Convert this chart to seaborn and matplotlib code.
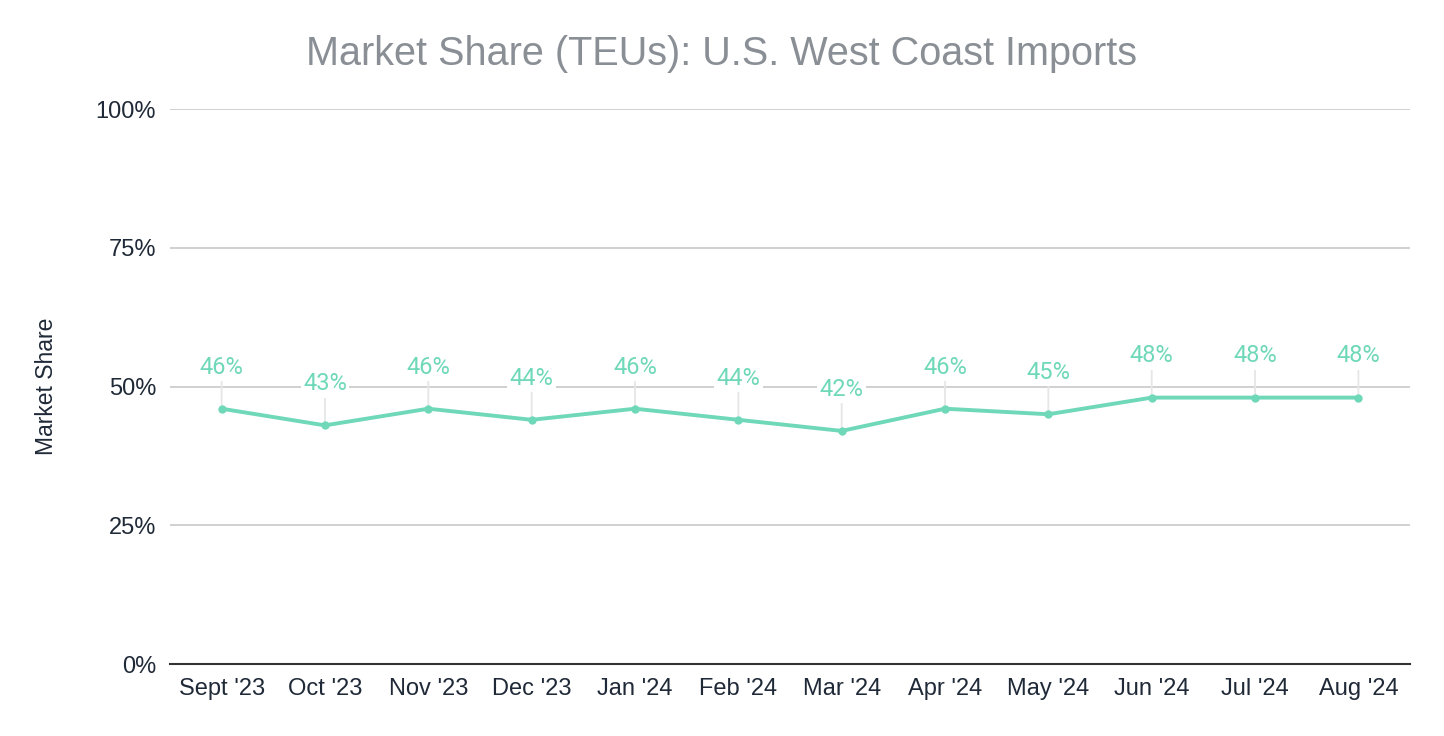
import matplotlib.pyplot as plt
import pandas as pd
import seaborn as sns

# Dados
months = ["Sept '23", "Oct '23", "Nov '23", "Dec '23", "Jan '24", "Feb '24",
          "Mar '24", "Apr '24", "May '24", "Jun '24", "Jul '24", "Aug '24"]
share = [46, 43, 46, 44, 46, 44, 42, 46, 45, 48, 48, 48]
y_ticks = [0, 25, 50, 75, 100]

df = pd.DataFrame({'month': months, 'share': share})
df['pos'] = range(len(df))

sns.set_style('white')
plt.rcParams['font.family'] = ['Liberation Sans', 'DejaVu Sans']

line_color = '#6fd8b9'

fig = plt.figure(figsize=(14.44, 7.36), dpi=100)
ax = fig.add_axes([0.1177, 0.0978, 0.8588, 0.7541])

# Linhas de grade
for t in y_ticks[1:]:
    ax.axhline(t, color='#c8c8c8', linewidth=1.2, zorder=0)

sns.lineplot(data=df, x='pos', y='share', ax=ax, color=line_color,
             linewidth=2.8, marker='o', markersize=6, markeredgewidth=0, zorder=3)

# Rótulos com linha-guia
for x, v in zip(df['pos'], df['share']):
    ax.annotate('', xy=(x, v), xytext=(0, 22), textcoords='offset points',
                arrowprops=dict(arrowstyle='-', color='#e6e6e6', lw=1.3,
                                shrinkA=0, shrinkB=0), zorder=2)
    ax.annotate(f'{v}%', xy=(x, v), xytext=(0, 30), textcoords='offset points',
                ha='center', va='center', fontsize=17, color=line_color,
                family=['Roboto', 'DejaVu Sans'],
                bbox=dict(boxstyle='square,pad=0.1', fc='white', ec='none'),
                zorder=4)

ax.set_xlim(-0.5, len(months) - 0.5)
ax.set_ylim(0, 100)
ax.set_xticks(df['pos'])
ax.set_xticklabels(months)
ax.set_yticks(y_ticks)
ax.set_yticklabels([f'{t}%' for t in y_ticks])
ax.tick_params(axis='both', labelsize=17, labelcolor='#1f2937', length=0, pad=10)

for s in ['top', 'right', 'left']:
    ax.spines[s].set_visible(False)
ax.spines['bottom'].set_color('#333333')
ax.spines['bottom'].set_linewidth(1.5)

ax.set_xlabel('')
ax.set_ylabel('Market Share', fontsize=16.5, color='#1f2937', labelpad=27)
fig.text(0.5, 0.927, 'Market Share (TEUs): U.S. West Coast Imports', fontsize=28.5,
         color='#8a8f96', ha='center', va='center')

fig.savefig('out.png', dpi=100)
